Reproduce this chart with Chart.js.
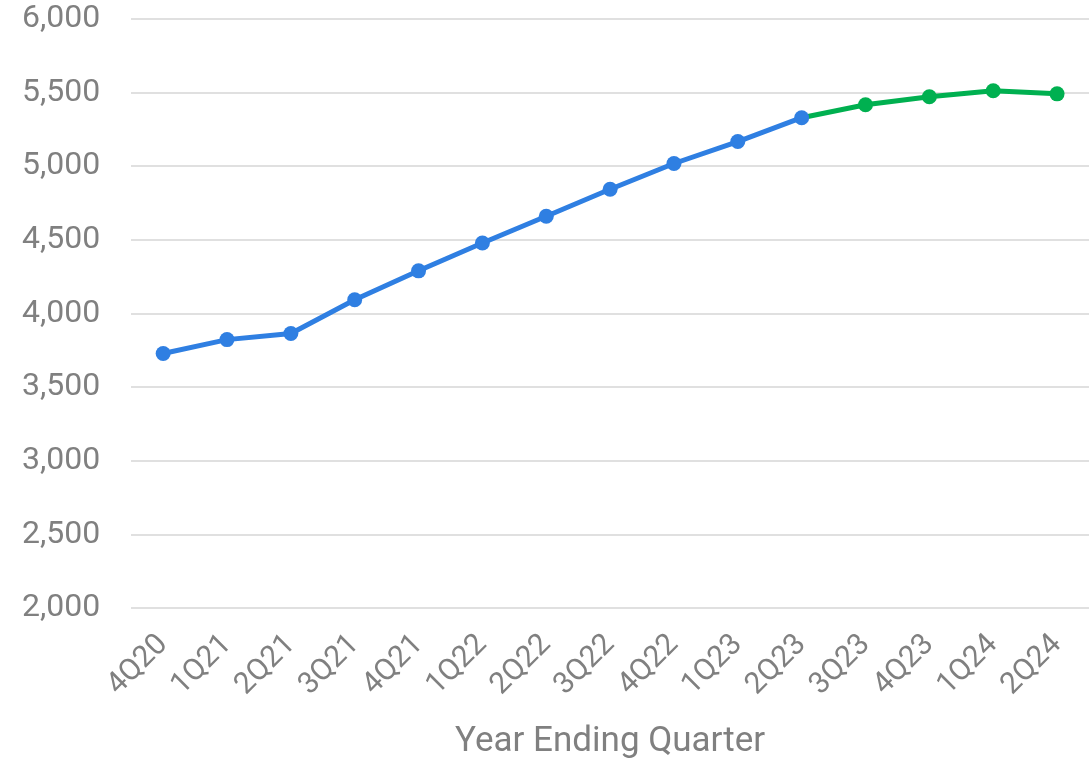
<!DOCTYPE html>
<html>
<head>
<meta charset="utf-8">
<script src="https://cdn.jsdelivr.net/npm/chart.js@4"></script>
<style>
  html, body { margin: 0; padding: 0; background: #fff; }
  #wrap { width: 1089px; height: 763px; }
</style>
</head>
<body>
<div id="wrap"><canvas id="chart" width="1089" height="763"></canvas></div>
<script>
const quarters = ['4Q20', '1Q21', '2Q21', '3Q21', '4Q21', '1Q22', '2Q22', '3Q22', '4Q22', '1Q23', '2Q23', '3Q23', '4Q23', '1Q24', '2Q24'];
const values = [3730, 3824, 3865, 4095, 4291, 4480, 4662, 4845, 5020, 5169, 5331, 5419, 5473, 5514, 5493];
const yTicks = [2000, 2500, 3000, 3500, 4000, 4500, 5000, 5500, 6000];
const lastActual = 10; // 2Q23 is the last blue point

const blue = '#2f7fe2';
const green = '#00b050';
const grey = '#808080';
const clear = 'rgba(0,0,0,0)';

const pointColors = values.map((v, i) => i <= lastActual ? blue : green);

new Chart(document.getElementById('chart'), {
    type: 'line',
    data: {
        labels: quarters,
        datasets: [{
            data: values,
            borderColor: blue,
            borderWidth: 5,
            pointRadius: 7.5,
            pointBorderWidth: 0,
            pointBackgroundColor: pointColors,
            pointBorderColor: pointColors,
            segment: {
                borderColor: ctx => ctx.p0DataIndex >= lastActual ? green : blue
            },
            tension: 0
        }]
    },
    options: {
        responsive: false,
        animation: false,
        // fixed padding, so the plot runs right up to the canvas edge like the original
        layout: { autoPadding: false, padding: { top: 18, right: 0, left: 22, bottom: 0 } },
        plugins: {
            legend: { display: false },
            tooltip: { enabled: false }
        },
        scales: {
            x: {
                offset: true,
                // invisible tick marks give the gap under the plot without extra side padding
                grid: { drawOnChartArea: false, drawTicks: true, tickLength: 19, tickColor: clear },
                border: { display: false },
                afterFit: axis => { axis.paddingLeft = 0; axis.paddingRight = 0; },
                ticks: {
                    color: grey,
                    font: { family: 'Roboto', size: 30 },
                    minRotation: 45,
                    maxRotation: 45,
                    padding: 0
                },
                title: {
                    display: true,
                    text: 'Year Ending Quarter',
                    color: grey,
                    font: { family: 'Roboto', size: 35 },
                    padding: { top: 18, bottom: 0 }
                }
            },
            y: {
                min: 2000,
                max: 6000,
                afterBuildTicks: axis => { axis.ticks = yTicks.map(v => ({ value: v })); },
                grid: { color: '#e0e0e0', lineWidth: 2, drawTicks: true, tickLength: 31, tickColor: clear },
                border: { display: false },
                ticks: {
                    color: grey,
                    font: { family: 'Roboto', size: 32 },
                    padding: 0,
                    callback: v => v.toLocaleString('en-US')
                }
            }
        }
    }
});
</script>
</body>
</html>
